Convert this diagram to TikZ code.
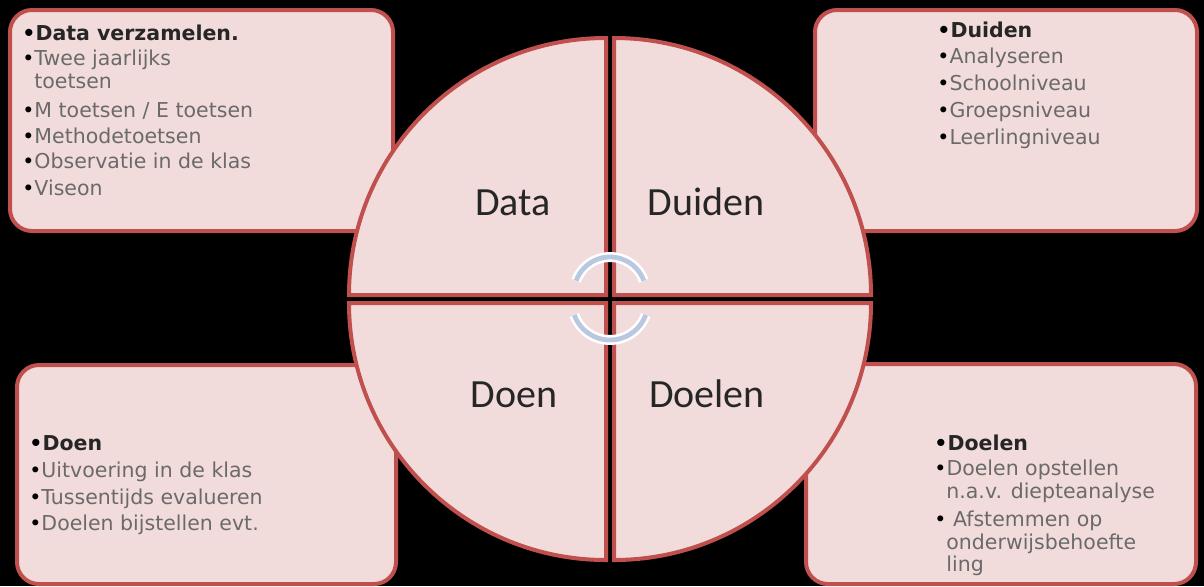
\documentclass[tikz,border=0pt]{standalone}
\usepackage{fontspec}
\newfontfamily\smallfont{DejaVu Sans}
\newfontfamily\bigfont{Carlito}
\definecolor{boxfill}{HTML}{F2DCDB}
\definecolor{boxline}{HTML}{C0504D}
\definecolor{txtgray}{HTML}{6A6A6A}
\definecolor{arcblue}{RGB}{185,200,225}
\newcommand{\mybullet}{{\color{black}•}}
\begin{document}
\begin{tikzpicture}[x=0.5pt,y=-0.5pt,
  panel/.style={fill=boxfill,draw=boxline,line width=2pt,rounded corners=11pt},
  quad/.style={fill=boxfill,draw=boxline,line width=2pt,line join=miter},
  item/.style={anchor=base west,inner sep=0pt,font=\smallfont\fontsize{10.25}{12}\selectfont,text=txtgray},
  head/.style={anchor=base west,inner sep=0pt,font=\smallfont\bfseries\fontsize{10.25}{12}\selectfont,text=black!85},
  big/.style={anchor=base,inner sep=0pt,font=\bigfont\fontsize{20}{24}\selectfont,text=black!85},
  arcwhite/.style={draw=white,line width=5pt},
  arcinner/.style={draw=arcblue,line width=2.4pt}]
\useasboundingbox (0,0) rectangle (1204,586);
\fill[black] (0,0) rectangle (1204,586);
% corner panels
\path[panel] (10,10) rectangle (393,231);
\path[panel] (815,10) rectangle (1197,231);
\path[panel] (17,365) rectangle (396,584);
\path[panel] (806,364) rectangle (1196,584);
% circle quadrants
\path[quad] (606,295) -- ++(-257,0) arc[start angle=180,end angle=270,radius=257] -- cycle;
\path[quad] (614,295) -- ++(257,0) arc[start angle=0,end angle=-90,radius=257] -- cycle;
\path[quad] (606,303) -- ++(-257,0) arc[start angle=180,end angle=90,radius=257] -- cycle;
\path[quad] (614,303) -- ++(257,0) arc[start angle=0,end angle=90,radius=257] -- cycle;
% quadrant labels
\node[big] (data) at (513,215) {Data};
\node[big] (duiden) at (706,215) {Duiden};
\node[big] (doen) at (514,407) {Doen};
\node[big] (doelen) at (707,407) {Doelen};
% cycle arcs
\coordinate (topc) at (610,293);
\coordinate (botc) at (610,302);
\path[arcwhite] (topc) ++(-160:36) arc[start angle=-160,end angle=-20,radius=36];
\path[arcinner] (topc) ++(-160:36) arc[start angle=-160,end angle=-20,radius=36];
\path[arcwhite] (botc) ++(160:38) arc[start angle=160,end angle=20,radius=38];
\path[arcinner] (botc) ++(160:38) arc[start angle=160,end angle=20,radius=38];
% top-left text
\node[head] (tl1) at (22,40) {\mybullet Data verzamelen.};
\node[item] (tl2) at (22,65) {\mybullet Twee jaarlijks};
\node[item] (tl3) at (34,88) {toetsen};
\node[item] (tl4) at (22,117) {\mybullet M toetsen / E toetsen};
\node[item] (tl5) at (22,143) {\mybullet Methodetoetsen};
\node[item] (tl6) at (22,168) {\mybullet Observatie in de klas};
\node[item] (tl7) at (22,195) {\mybullet Viseon};
% top-right text
\node[head] (tr1) at (937,37) {\mybullet Duiden};
\node[item] (tr2) at (937,63) {\mybullet Analyseren};
\node[item] (tr3) at (937,90) {\mybullet Schoolniveau};
\node[item] (tr4) at (937,117) {\mybullet Groepsniveau};
\node[item] (tr5) at (937,144) {\mybullet Leerlingniveau};
% bottom-left text
\node[head] (bl1) at (29,450) {\mybullet Doen};
\node[item] (bl2) at (29,477) {\mybullet Uitvoering in de klas};
\node[item] (bl3) at (29,504) {\mybullet Tussentijds evalueren};
\node[item] (bl4) at (29,530) {\mybullet Doelen bijstellen evt.};
% bottom-right text
\node[head] (br1) at (934,450) {\mybullet Doelen};
\node[item] (br2) at (934,475) {\mybullet Doelen opstellen};
\node[item] (br3) at (946,498) {n.a.v. diepteanalyse};
\node[item] (br4) at (934,526) {\mybullet{} Afstemmen op};
\node[item] (br5) at (946,549) {onderwijsbehoefte};
\node[item] (br6) at (946,571) {ling};
\end{tikzpicture}
\end{document}
